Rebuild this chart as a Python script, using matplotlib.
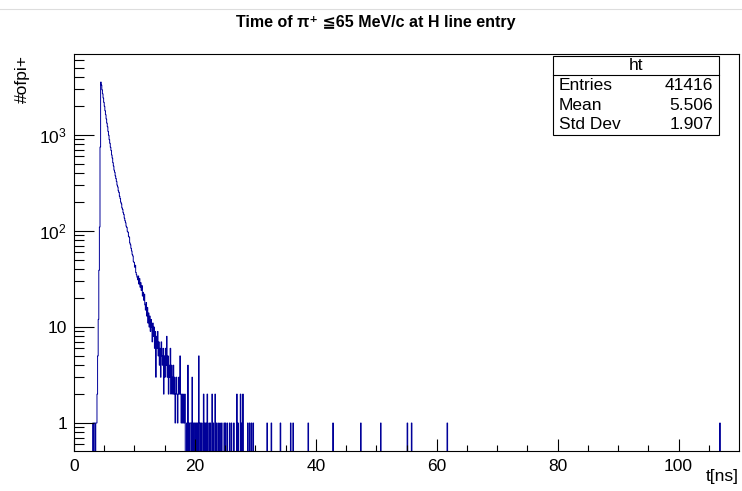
import numpy as np
import matplotlib
matplotlib.use("Agg")
import matplotlib.pyplot as plt
from matplotlib.patches import Rectangle
from matplotlib.lines import Line2D
from matplotlib.ticker import FixedLocator, FuncFormatter, NullFormatter

plt.rcParams['font.family'] = ['Liberation Sans', 'DejaVu Sans', 'Noto Sans CJK JP']

# ---------------- data ----------------
title = "Time of \u03c0\u207a \u226665 MeV/c at H line entry"
x_label = "t[ns]"
y_label = "#ofpi+"
hist_name = "ht"
stat_names = ["Entries", "Mean", "Std Dev"]
stat_values = ["41416", "5.506", "1.907"]

n_bins = 1100
x_min, x_max = 0.0, 110.0

# consecutive bin contents, 0.1 ns bins, first bin starting at 3.1 ns
dense_start_ns = 3.1
dense_counts = [
    1, 0, 1, 1, 0, 1, 1,
    2, 5, 12, 39, 110, 750, 3560,
    3310, 2960, 2690, 2430, 2190, 1990, 1790, 1630, 1470, 1330,
    1220, 1090, 995, 895, 820, 745, 690, 620, 575, 515,
    475, 430, 410, 375, 352, 328, 300, 288, 262, 252,
    230, 218, 200, 192, 174, 168, 155, 149, 136, 128,
    122, 112, 109, 99, 97, 88, 86, 75, 72, 66,
    62, 57, 55, 48, 47, 42, 44, 37, 35, 33,
    31, 34, 28, 32, 26, 29, 24, 27, 21, 23,
    19, 22, 17, 15, 18, 13, 16, 11, 14, 10,
    13, 9, 12, 10, 7, 11, 8, 10, 6, 9,
    3, 8, 6, 9, 5, 7, 4, 6, 3, 7,
    5, 4, 6, 2, 5, 3, 6, 4, 8, 3,
    5, 2, 4, 3, 6, 2, 4, 3, 2, 4,
    2, 3, 1, 2, 3, 2, 1, 2, 3, 2,
    5, 2, 1, 2, 1, 2, 1, 1, 2, 0,
]

# isolated bins in the tail (ns, count)
tail_times_ns = [18.6, 18.8, 19.0, 19.2, 19.3, 19.5, 19.7, 19.9, 20.0, 20.2,
                 20.4, 20.6, 20.7, 20.9, 21.1, 21.4, 21.6, 21.8, 22.0, 22.3,
                 22.5, 22.8, 23.0, 23.3, 23.5, 23.8, 24.1, 24.4, 24.8, 25.0,
                 25.3, 25.7, 26.0, 26.4, 26.9, 27.1, 27.5, 27.7, 27.9, 28.7,
                 29.0, 29.3, 29.6, 31.9, 32.6, 34.1, 35.8, 36.2, 38.7, 42.8,
                 47.4, 50.7, 55.1, 55.8, 61.7, 106.8]
tail_counts = [1, 4, 1, 1, 1, 3, 1, 1, 1, 1,
               1, 5, 1, 1, 1, 2, 1, 1, 2, 1,
               1, 2, 1, 2, 1, 1, 1, 1, 1, 1,
               1, 1, 1, 1, 2, 1, 2, 1, 2, 1,
               1, 1, 1, 1, 1, 1, 1, 1, 1, 1,
               1, 1, 1, 1, 1, 1]

x_ticks = [0, 20, 40, 60, 80, 100]
y_ticks = [1, 10, 100, 1000]
y_tick_labels = ["1", "10", "$\\mathregular{10^{2}}$", "$\\mathregular{10^{3}}$"]

# ---------------- build histogram ----------------
edges = np.linspace(x_min, x_max, n_bins + 1)
counts = np.zeros(n_bins)
i0 = int(round(dense_start_ns * 10))
counts[i0:i0 + len(dense_counts)] = dense_counts
for t, c in zip(tail_times_ns, tail_counts):
    counts[int(round(t * 10))] = c
draw_counts = np.where(counts > 0, counts, 1e-3)

# ---------------- figure ----------------
W, H = 742, 491
fig = plt.figure(figsize=(W / 100, H / 100), dpi=100)
L, R, T, B = 74, 739, 54, 451
ax = fig.add_axes([L / W, 1 - B / H, (R - L) / W, (B - T) / H])

ax.stairs(draw_counts, edges, color='#000099', lw=0.7, baseline=None)

ax.set_yscale('log')
ax.set_xlim(x_min, x_max)
ax.set_ylim(0.511, 6980)

ax.xaxis.set_major_locator(FixedLocator(x_ticks))
ax.xaxis.set_minor_locator(FixedLocator([v for v in range(5, 110, 5) if v % 20]))
ax.yaxis.set_major_locator(FixedLocator(y_ticks))
minor_y = [m * 10 ** e for e in range(-1, 4) for m in range(2, 10)]
ax.yaxis.set_minor_locator(FixedLocator([v for v in minor_y if 0.51 < v < 6980]))
ax.yaxis.set_major_formatter(FuncFormatter(lambda v, p: y_tick_labels[y_ticks.index(int(round(v)))] if int(round(v)) in y_ticks else ""))
ax.yaxis.set_minor_formatter(NullFormatter())

ax.tick_params(axis='both', which='both', direction='in', colors='black',
               labelsize=12.5, width=0.8)
ax.tick_params(axis='x', which='major', length=8.6, pad=6)
ax.tick_params(axis='x', which='minor', length=4.3)
ax.tick_params(axis='y', which='major', length=14.4, pad=5)
ax.tick_params(axis='y', which='minor', length=7.2)
for s in ax.spines.values():
    s.set_linewidth(0.8)
    s.set_color('black')

# texts
fig.text(376 / W, 1 - 22 / H, title, ha='center', va='center',
         fontsize=11.5, fontweight='bold')
fig.text(22 / W, 1 - 55 / H, y_label, ha='center', va='top', rotation=90,
         fontsize=12.5)
fig.text(739 / W, 1 - 469 / H, x_label, ha='right', va='top', fontsize=12.5)

# stats box
bx0, bx1, by0, by1, byh = 553, 719, 56, 135, 75
fig.add_artist(Rectangle((bx0 / W, 1 - by1 / H), (bx1 - bx0) / W, (by1 - by0) / H,
                         transform=fig.transFigure, facecolor='white',
                         edgecolor='black', lw=0.8, zorder=5))
fig.add_artist(Line2D([bx0 / W, bx1 / W], [1 - byh / H, 1 - byh / H],
                      transform=fig.transFigure, color='black', lw=0.8, zorder=6))
fig.text((bx0 + bx1) / 2 / W, 1 - (by0 + byh) / 2 / H, hist_name,
         ha='center', va='center', fontsize=12.5, zorder=7)
row_h = (by1 - byh) / 3
for k, (n, v) in enumerate(zip(stat_names, stat_values)):
    yc = byh + row_h * (k + 0.5)
    fig.text((bx0 + 6) / W, 1 - yc / H, n, ha='left', va='center', fontsize=12.5, zorder=7)
    fig.text((bx1 - 6) / W, 1 - yc / H, v, ha='right', va='center', fontsize=12.5, zorder=7)

# faint top border line
fig.add_artist(Line2D([0, 1], [1 - 9 / H, 1 - 9 / H], transform=fig.transFigure,
                      color='#dddddd', lw=0.8))

fig.savefig('out.png', dpi=100)
